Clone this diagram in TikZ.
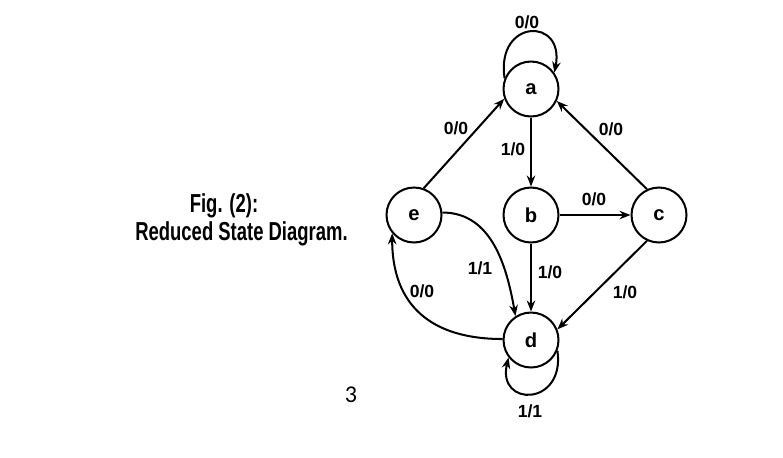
\documentclass[tikz,border=0pt]{standalone}
\usepackage{fontspec}
\setmainfont{Liberation Sans}
\newfontfamily\capfont[FakeStretch=0.71]{Liberation Sans}
\newfontfamily\pagefont{Carlito}
\usetikzlibrary{arrows.meta}
\tikzstyle{state} = [draw, circle, line width=1.15pt, minimum size=1.1cm, inner sep=0pt, font=\fontsize{11.5}{13}\selectfont\bfseries]
\tikzstyle{arrow} = [line width=1.15pt, -{Stealth[length=2.2mm,width=1.7mm]}]
\tikzstyle{lbl} = [inner sep=0pt, font=\fontsize{10}{12}\selectfont\bfseries]
\tikzstyle{caption} = [anchor=base, inner sep=0pt, font=\capfont\bfseries\fontsize{14.8}{17}\selectfont]

\begin{document}
\begin{tikzpicture}[x=0.02cm, y=-0.02cm]
\useasboundingbox (0,0) rectangle (783,457);
\node[state] (a) at (531,89) {a};
\node[state] (b) at (531,215) {b};
\node[state] (c) at (659,215) {c};
\node[state] (d) at (531,340) {d};
\node[state] (e) at (414,215) {e};
\draw[arrow] (a.158) .. controls +(-9,-60) and +(11,-56) .. (a.35);
\draw[arrow] (e.70) -- (a.200);
\draw[arrow] (c.115) -- (a.-25);
\draw[arrow] (a) -- (b);
\draw[arrow] (b) -- (c);
\draw[arrow] (b) -- (d);
\draw[arrow] (c.-115) -- (d.22);
\draw[arrow] (e.5) to[out=0, in=100] (d.123);
\draw[arrow] (d.178) to[out=180, in=-90, looseness=1.2] (e.-140);
\draw[arrow] (d.-22) .. controls +(8,56) and +(-12,50) .. (d.-142);
\node[lbl] (laa) at (527,22) {0/0};
\node[lbl] (lea) at (456,128) {0/0};
\node[lbl] (lab) at (513,149) {1/0};
\node[lbl] (lca) at (611,129) {0/0};
\node[lbl] (lbc) at (594,199) {0/0};
\node[lbl] (led) at (480,268) {1/1};
\node[lbl] (lbd) at (550,272) {1/0};
\node[lbl] (lcd) at (625,292) {1/0};
\node[lbl] (lde) at (422,291) {0/0};
\node[lbl] (ldd) at (530,411) {1/1};
\node[caption] (fig) at (224,212) {Fig. (2):};
\node[caption] (title) at (241.5,240) {Reduced State Diagram.};
\node[font=\pagefont\fontsize{13.7}{16}\selectfont, inner sep=0pt] (pg) at (351,395) {3};
\end{tikzpicture}
\end{document}
